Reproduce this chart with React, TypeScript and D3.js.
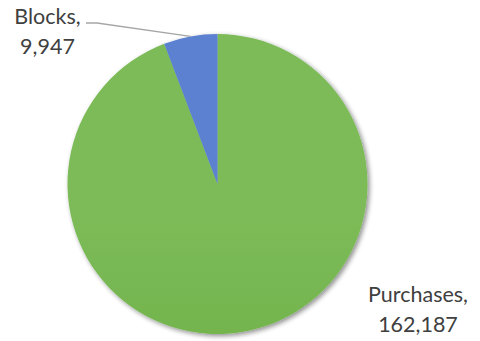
import React from "react";
import * as d3 from "d3";

const categories = ["Purchases", "Blocks"];
const values = [162187, 9947];
const valueLabels = ["162,187", "9,947"];

const W = 480, H = 341;
const cx = 217.5, cy = 184, R = 150;

export default function App() {
  const pie = d3.pie<number>().sort(null).value((d) => d);
  const arcs = pie(values);
  const arc = d3.arc<d3.PieArcDatum<number>>().innerRadius(0).outerRadius(R);
  const fills = ["url(#gGreen)", "url(#gBlue)"];
  const blocks = arcs[1];
  const mid = (blocks.startAngle + blocks.endAngle) / 2;
  const px = Math.sin(mid) * R;
  const py = -Math.cos(mid) * R;
  return (
    <svg width={W} height={H} style={{ position: "absolute", left: 0, top: 0, background: "#fff" }}>
      <defs>
        <linearGradient id="gGreen" x1="0" y1={cy - R} x2="0" y2={cy + R} gradientUnits="userSpaceOnUse">
          <stop offset="0" stopColor="#7cbb58" />
          <stop offset="1" stopColor="#68aa3e" />
        </linearGradient>
        <linearGradient id="gBlue" x1="0" y1={cy - R} x2="0" y2={cy + R} gradientUnits="userSpaceOnUse">
          <stop offset="0" stopColor="#5b81d1" />
          <stop offset="1" stopColor="#4070c4" />
        </linearGradient>
        <filter id="sh" x="-20%" y="-20%" width="140%" height="140%">
          <feGaussianBlur in="SourceAlpha" stdDeviation="2.5" />
          <feOffset dx="2" dy="2" result="b" />
          <feComponentTransfer>
            <feFuncA type="linear" slope="0.45" />
          </feComponentTransfer>
          <feMerge>
            <feMergeNode />
            <feMergeNode in="SourceGraphic" />
          </feMerge>
        </filter>
      </defs>
      <g transform={`translate(${cx},${cy})`} filter="url(#sh)">
        {arcs.map((a, i) => (
          <path key={categories[i]} d={arc(a) || ""} fill={fills[i]} />
        ))}
      </g>
      <polyline
        points={`86,23 97,23 ${cx + px},${cy + py}`}
        fill="none"
        stroke="#a6a6a6"
        strokeWidth={1.3}
      />
      <g fontFamily="Lato, 'Open Sans', sans-serif" fontSize={21.5} fill="#404040" textAnchor="middle">
        <text x={47.5} y={24}>{categories[1]},</text>
        <text x={47.5} y={54}>{valueLabels[1]}</text>
        <text x={418} y={302}>{categories[0]},</text>
        <text x={418} y={332}>{valueLabels[0]}</text>
      </g>
    </svg>
  );
}
